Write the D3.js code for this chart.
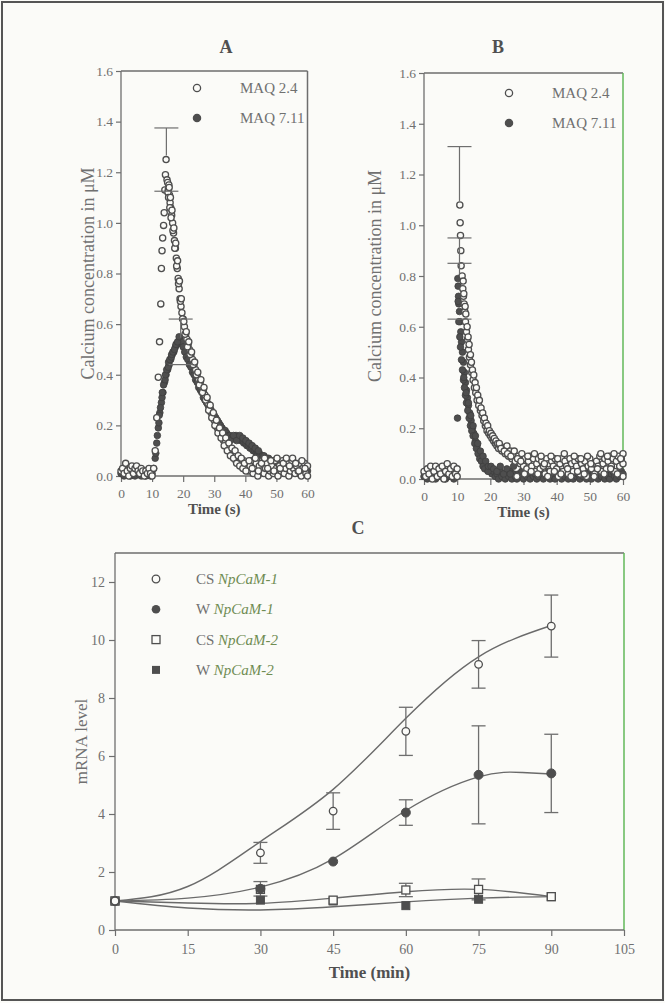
<!DOCTYPE html>
<html><head><meta charset="utf-8">
<script src="https://cdn.jsdelivr.net/npm/d3@7"></script>
<style>html,body{margin:0;padding:0;background:#fbfbf8;} svg{display:block;}</style>
</head><body>
<script>
// ---------------- DATA ----------------
// Panel A: [time (s), calcium µM]
const aMaq24 = [[0,0.02],[0.5,0.03],[1,0.01],[1.5,0.05],[2,0.02],[2.5,0.00],[3,0.03],[3.5,0.04],[4,0.01],[4.5,0.03],[5,0.04],[5.5,0.02],[6,0.01],[6.5,0.03],[7,0.02],[7.5,0.00],[8,0.02],[8.5,0.01],[9,0.03],[9.5,0.01],[10,0.00],[10.5,0.03],
[11,0.10],[11.5,0.23],[12,0.39],[12.4,0.53],[12.8,0.68],[13,0.82],[13.2,0.89],[13.4,0.94],[13.7,0.99],[13.9,1.04],[14.1,1.13],[14.3,1.19],[14.5,1.25],[14.8,1.17],[15,1.16],[15.2,1.13],[15.4,1.15],[15.6,1.11],[15.8,1.08],[16,1.06],[16.3,1.03],[16.6,1.00],[16.9,0.96],[17.2,0.93],[17.5,0.90],[17.8,0.86],[18.1,0.82],[18.4,0.78],[18.7,0.74],[19,0.70],[19.3,0.67],[19.6,0.645],[20,0.62],[20.4,0.59],[20.8,0.56],[21.2,0.54],[21.6,0.52],[22,0.50],[22.5,0.48],[23,0.46],[23.5,0.44],[24,0.42],[24.5,0.40],[25,0.38],[25.5,0.37],[26,0.35],[26.5,0.335],[27,0.32],[27.5,0.30],[28,0.285],[28.5,0.27],[29,0.25],[29.5,0.235],[30,0.22],[30.5,0.205],[31,0.19],[31.5,0.18],[32,0.17],[32.5,0.16],[33,0.14],[33.5,0.13],[34,0.12],[34.5,0.11],[35,0.10],[35.5,0.09],[36,0.08],[36.5,0.09],[37,0.06],[37.5,0.07],[38,0.05],[38.5,0.06],[39,0.04],[39.5,0.06],[40,0.03],[40.5,0.05],[41,0.02],[41.5,0.04],[42,0.06],[42.5,0.01],[43,0.03],[43.5,0.05],[44,0.00],[44.5,0.04],[45,0.02],[45.5,0.06],[46,0.01],[46.5,0.03],[47,0.05],[47.5,0.00],[48,0.02],[48.5,0.04],[49,0.01],[49.5,0.06],[50,0.03],[50.5,0.00],[51,0.04],[51.5,0.02],[52,0.06],[52.5,0.01],[53,0.03],[53.5,0.05],[54,0.00],[54.5,0.02],[55,0.06],[55.5,0.03],[56,0.01],[56.5,0.04],[57,0.02],[57.5,0.05],[58,0.00],[58.5,0.03],[59,0.05],[59.5,0.01],[60,0.04],[60,0.00],
[15.1,1.12],[15.3,1.10],[15.5,1.14],[15.7,1.06],[15.9,1.10],[16.1,1.02],[16.4,1.05],[16.7,0.97],[17,0.98],[17.3,0.90],[17.6,0.92],[17.9,0.83],[18.2,0.85],[18.5,0.76],[18.8,0.77],[19.1,0.69],[19.4,0.70],[19.8,0.62],[20.2,0.61],[20.6,0.56],[21,0.57],[21.4,0.51],[21.8,0.53],[22.2,0.48],[22.7,0.49],[23.2,0.44],[23.7,0.45],[24.2,0.40],[24.7,0.41],[25.2,0.36],[25.7,0.38],[26.2,0.33],[26.7,0.35],[27.2,0.30],[27.7,0.31],[28.2,0.26],[28.7,0.28],[29.2,0.23],[29.7,0.25],[30.2,0.20],[30.7,0.22],[31.2,0.17],[31.7,0.19],[32.2,0.15],[32.7,0.17],[33.2,0.12],[33.7,0.15],[34.2,0.10],[34.7,0.13],[35.2,0.08],[35.7,0.11],[36.2,0.07],[36.7,0.10],[37.2,0.05],[37.7,0.08],[38.2,0.04],[38.7,0.07],[39.2,0.03],[39.7,0.05],[40.2,0.02],[41.2,0.06],[42.2,0.03],[43.2,0.07],[44.2,0.02],[45.2,0.05],[46.2,0.07],[47.2,0.03],[48.2,0.06],[49.2,0.02],[50.2,0.07],[51.2,0.03],[52.2,0.05],[53.2,0.07],[54.2,0.04],[55.2,0.07],[56.2,0.05],[57.2,0.02],[58.2,0.06],[59.2,0.03]];
const aMaq711 = [[0,0.01],[0.5,0.02],[1,0.00],[1.5,0.02],[2,0.01],[2.5,0.03],[3,0.00],[3.5,0.02],[4,0.01],[4.5,0.00],[5,0.02],[5.5,0.01],[6,0.03],[6.5,0.00],[7,0.01],[7.5,0.02],[8,0.00],[8.5,0.02],[9,0.01],[9.5,0.00],[10,0.01],[10.5,0.03],[11,0.07],[11.5,0.13],[12,0.19],[12.5,0.25],[13,0.29],[13.5,0.33],[14,0.37],[14.5,0.40],[15,0.42],[15.5,0.44],[16,0.46],[16.5,0.48],[17,0.49],[17.5,0.51],[18,0.52],[18.5,0.53],[19,0.54],[19.5,0.53],[20,0.51],[20.5,0.49],[21,0.47],[21.5,0.46],[22,0.44],[22.5,0.43],[23,0.41],[23.5,0.40],[24,0.38],[24.5,0.37],[25,0.35],[25.5,0.34],[26,0.33],[26.5,0.31],[27,0.30],[27.5,0.29],[28,0.28],[28.5,0.27],[29,0.26],[29.5,0.25],[30,0.24],[30.5,0.23],[31,0.22],[31.5,0.21],[32,0.20],[32.5,0.19],[33,0.18],[33.5,0.18],[34,0.17],[34.5,0.16],[35,0.16],[35.5,0.15],[36,0.15],[36.5,0.15],[37,0.16],[37.5,0.15],[38,0.15],[38.5,0.14],[39,0.14],[39.5,0.13],[40,0.13],[40.5,0.12],[41,0.12],[41.5,0.11],[42,0.11],[42.5,0.10],[43,0.10],[43.5,0.09],[44,0.09],[44.5,0.09],[45,0.08],[45.5,0.08],[46,0.08],[46.5,0.07],[47,0.07],[47.5,0.07],[48,0.06],[48.5,0.06],[49,0.06],[49.5,0.05],[50,0.05],[50.5,0.05],[51,0.04],[51.5,0.05],[52,0.04],[52.5,0.04],[53,0.03],[53.5,0.04],[54,0.03],[54.5,0.03],[55,0.02],[55.5,0.03],[56,0.02],[56.5,0.02],[57,0.01],[57.5,0.02],[58,0.01],[58.5,0.02],[59,0.01],[59.5,0.01],[60,0.02],
[11.2,0.09],[11.7,0.16],[12.2,0.21],[12.3,0.24],[12.7,0.27],[13.2,0.31],[13.3,0.33],[13.7,0.36],[14.2,0.38],[14.3,0.40],[14.7,0.42],[15.2,0.43],[15.3,0.45],[15.7,0.46],[16.2,0.47],[16.3,0.48],[16.7,0.49],[17.2,0.50],[17.7,0.52],[18.2,0.53],[18.7,0.55],[35.2,0.14],[36.2,0.16],[37.2,0.14],[38.2,0.16],[39.2,0.15],[40.2,0.14],[41.2,0.13],[42.2,0.12],[43.2,0.11],[44.2,0.10]];
// Panel A error bars: [time, mean, sd]
const aErr24 = [[14.6,1.25,0.125]];
const aErr711 = [[19.2,0.53,0.09]];

// Panel B
const bMaq24 = [[0,0.03],[0.5,0.01],[1,0.04],[1.5,0.02],[2,0.05],[2.5,0.00],[3,0.03],[3.5,0.05],[4,0.01],[4.5,0.04],[5,0.02],[5.5,0.05],[6,0.00],[6.5,0.03],[7,0.06],[7.5,0.02],[8,0.04],[8.5,0.01],[9,0.05],[9.5,0.02],[10,0.04],[10,0.01],
[10.8,1.08],[10.9,1.01],[11,0.96],[11.1,0.90],[11.2,0.84],[11.5,0.80],[11.7,0.75],[11.9,0.72],[12.1,0.69],[12.3,0.66],[12.5,0.62],[12.8,0.58],[13.1,0.55],[13.4,0.51],[13.7,0.48],[14,0.45],[14.4,0.42],[14.8,0.39],[15.2,0.36],[15.6,0.34],[16,0.31],[16.5,0.29],[17,0.27],[17.5,0.25],[18,0.23],[18.5,0.21],[19,0.19],[19.5,0.18],[20,0.17],[20.5,0.16],[21,0.15],[21.5,0.14],[22,0.13],[22.5,0.12],[23,0.13],[23.5,0.11],[24,0.12],[24.5,0.10],[25,0.13],[25.5,0.09],[26,0.11],[26.5,0.08],[27,0.10],[27.5,0.07],[28,0.01],[28.5,0.09],[29,0.06],[29.5,0.10],[30,0.05],[30.5,0.08],[31,0.04],[31.5,0.07],[32,0.09],[32.5,0.05],[33,0.08],[33.5,0.03],[34,0.06],[34.5,0.08],[35,0.04],[35.5,0.07],[36,0.05],[36.5,0.02],[37,0.08],[37.5,0.06],[38,0.03],[38.5,0.07],[39,0.05],[39.5,0.08],[40,0.04],[40.5,0.01],[41,0.06],[41.5,0.08],[42,0.03],[42.5,0.07],[43,0.05],[43.5,0.02],[44,0.08],[44.5,0.06],[45,0.03],[45.5,0.07],[46,0.05],[46.5,0.08],[47,0.02],[47.5,0.06],[48,0.04],[48.5,0.07],[49,0.01],[49.5,0.05],[50,0.08],[50.5,0.04],[51,0.06],[51.5,0.02],[52,0.07],[52.5,0.05],[53,0.09],[53.5,0.03],[54,0.06],[54.5,0.08],[55,0.04],[55.5,0.07],[56,0.09],[56.5,0.05],[57,0.08],[57.5,0.03],[58,0.07],[58.5,0.09],[59,0.05],[59.5,0.08],[60,0.10],[60,0.06],[60,0.01],
[11.8,0.78],[12.0,0.73],[12.4,0.68],[12.6,0.65],[13,0.60],[13.3,0.56],[13.6,0.53],[14,0.49],[14.3,0.46],[14.6,0.43],[15,0.41],[15.4,0.38],[15.8,0.36],[16.2,0.33],[16.7,0.31],[17.2,0.28],[17.7,0.26],[18.2,0.24],[18.7,0.22],[19.2,0.21],[19.7,0.19],[20.2,0.18],[20.7,0.17],[21.2,0.16],[21.7,0.15],[22.2,0.14],[22.7,0.14],[23.2,0.12],[24.2,0.11],[25.2,0.10],[26.2,0.09],[27.2,0.11],[28.2,0.08],[29.2,0.07],
[30.3,0.02],[31.3,0.09],[32.3,0.03],[33.3,0.10],[34.3,0.02],[35.3,0.09],[36.3,0.06],[37.3,0.01],[38.3,0.09],[39.3,0.03],[40.3,0.08],[41.3,0.02],[42.3,0.10],[43.3,0.04],[44.3,0.01],[45.3,0.09],[46.3,0.03],[47.3,0.08],[48.3,0.02],[49.3,0.09],[50.3,0.06],[51.3,0.01],[52.3,0.04],[53.3,0.10],[54.3,0.02],[55.3,0.09],[56.3,0.04],[57.3,0.10],[58.3,0.02],[59.3,0.08]];
const bMaq711 = [[0,0.01],[0.5,0.03],[1,0.00],[1.5,0.02],[2,0.04],[2.5,0.01],[3,0.02],[3.5,0.00],[4,0.03],[4.5,0.01],[5,0.02],[5.5,0.04],[6,0.01],[6.5,0.00],[7,0.03],[7.5,0.01],[8,0.02],[8.5,0.04],[9,0.00],[9.5,0.02],[10.1,0.24],
[10.2,0.79],[10.3,0.76],[10.4,0.72],[10.5,0.69],[10.7,0.66],[10.9,0.62],[11.1,0.58],[11.3,0.54],[11.6,0.50],[11.9,0.46],[12.2,0.42],[12.5,0.38],[12.8,0.35],[13.1,0.32],[13.4,0.29],[13.8,0.26],[14.2,0.23],[14.6,0.20],[15,0.18],[15.5,0.15],[16,0.13],[16.5,0.11],[17,0.09],[17.5,0.08],[18,0.06],[18.5,0.05],[19,0.04],[19.5,0.04],[20,0.03],[20.5,0.02],[21,0.03],[21.5,0.01],[22,0.02],[22.5,0.00],[23,0.03],[23.5,0.01],[24,0.02],[24.5,0.00],[25,0.02],[25.5,0.01],[26,0.03],[26.5,0.00],[27,0.02],[27.5,0.01],[28,0.00],[28.5,0.02],[29,0.01],[29.5,0.03],[30,0.00],[30.5,0.02],[31,0.01],[31.5,0.02],[32,0.00],[32.5,0.03],[33,0.01],[33.5,0.02],[34,0.00],[34.5,0.01],[35,0.03],[35.5,0.02],[36,0.00],[36.5,0.02],[37,0.01],[37.5,0.03],[38,0.00],[38.5,0.02],[39,0.01],[39.5,0.00],[40,0.02],[40.5,0.03],[41,0.01],[41.5,0.00],[42,0.02],[42.5,0.01],[43,0.03],[43.5,0.00],[44,0.02],[44.5,0.01],[45,0.00],[45.5,0.03],[46,0.01],[46.5,0.02],[47,0.00],[47.5,0.02],[48,0.01],[48.5,0.03],[49,0.00],[49.5,0.02],[50,0.01],[50.5,0.00],[51,0.02],[51.5,0.03],[52,0.01],[52.5,0.00],[53,0.02],[53.5,0.01],[54,0.03],[54.5,0.00],[55,0.02],[55.5,0.01],[56,0.00],[56.5,0.02],[57,0.03],[57.5,0.01],[58,0.00],[58.5,0.02],[59,0.01],[59.5,0.03],[60,0.02],
[10.3,0.70],[10.5,0.62],[10.8,0.56],[11,0.52],[11.3,0.47],[11.6,0.43],[11.9,0.39],[12.2,0.36],[12.5,0.33],[12.8,0.30],[13.2,0.27],[13.6,0.24],[14,0.21],[14.4,0.19],[14.8,0.17],[15.3,0.14],[15.8,0.12],[16.3,0.10],[16.8,0.08],[17.3,0.07],[17.8,0.05],[18.3,0.04],[19.3,0.03],[12,0.40],[12.7,0.34],[13.4,0.30],[14.1,0.25],[14.8,0.21],[15.5,0.17],[16.2,0.14],[17,0.11],[17.8,0.09],[18.6,0.07],[19.4,0.05],[20.2,0.05],[21,0.04],[22,0.03],[23,0.05],[24,0.02],[25,0.04],[26,0.02],[27,0.05]];
const bErr24 = [[10.7,1.08,0.23]];
const bErr711 = [[10.7,0.79,0.16]];

const seriesNamesAB = ["MAQ 2.4", "MAQ 7.11"];
const ticksAB_x = [0,10,20,30,40,50,60];
const ticksAB_y = [0,0.2,0.4,0.6,0.8,1.0,1.2,1.4,1.6];

// Panel C
const timesC = [0,30,45,60,75,90];
const csNp1 = [1, 2.66, 4.10, 6.85, 9.16, 10.48];
const csNp1Err = [0, 0.36, 0.63, 0.83, 0.82, 1.07];
const wNp1 = [1, 1.42, 2.36, 4.05, 5.35, 5.40];
const wNp1Err = [0, 0.25, 0, 0.44, 1.69, 1.35];
const csNp2 = [1, 1.40, 1.03, 1.38, 1.40, 1.15];
const csNp2Err = [0, 0, 0, 0.23, 0.36, 0];
const wNp2 = [1, 1.03, 1.00, 0.84, 1.06, 1.15];
const fitCsNp1 = [[0,1],[15,1.5],[30,3.05],[45,4.85],[60,7.3],[75,9.42],[90,10.5]];
const fitWNp1 = [[0,1],[15,1.1],[30,1.48],[45,2.45],[60,4.12],[75,5.28],[84,5.43],[90,5.38]];
const fitCsNp2 = [[0,1],[15,0.93],[30,0.92],[45,1.1],[60,1.32],[75,1.4],[90,1.15]];
const fitWNp2 = [[0,1],[15,0.76],[30,0.69],[45,0.8],[60,0.97],[75,1.1],[90,1.15]];
const ticksC_x = [0,15,30,45,60,75,90,105];
const ticksC_y = [0,2,4,6,8,10,12];
const legendC = [["CS ","NpCaM-1"],["W ","NpCaM-1"],["CS ","NpCaM-2"],["W ","NpCaM-2"]];

// ---------------- DRAW ----------------
const W = 665, H = 1003;
const FONT = "'Liberation Serif', 'Times New Roman', serif";
const AX = "#6e6e6e", TXT = "#707070", DARK = "#505050", MARK = "#4e4e4e", GREEN = "#62b85a", ITAL = "#6f8c52";
const svg = d3.select("body").append("svg").attr("width", W).attr("height", H)
  .style("font-family", FONT);
svg.append("rect").attr("width", W).attr("height", H).attr("fill", "#fbfbf8");
svg.append("rect").attr("x", 2).attr("y", 2).attr("width", W - 4).attr("height", H - 5)
  .attr("fill", "none").attr("stroke", "#555").attr("stroke-width", 2);

function styleAxis(g, fs) {
  g.selectAll("path").remove();
  g.selectAll("line").attr("stroke", AX).attr("stroke-width", 1.2);
  g.selectAll("text").attr("fill", TXT).style("font-size", fs + "px").style("font-family", FONT);
}

function calciumPanel(cfg) {
  const x = d3.scaleLinear().domain([0, 60]).range([cfg.x0, cfg.x1]);
  const y = d3.scaleLinear().domain([0, 1.6]).range([cfg.y0, cfg.y1]);
  const g = svg.append("g");
  g.append("line").attr("x1", cfg.x0).attr("x2", cfg.x1).attr("y1", cfg.y1).attr("y2", cfg.y1).attr("stroke", AX).attr("stroke-width", 1.3);
  g.append("line").attr("x1", cfg.x1).attr("x2", cfg.x1).attr("y1", cfg.y1).attr("y2", cfg.y0).attr("stroke", cfg.rightCol).attr("stroke-width", 1.5);
  g.append("line").attr("x1", cfg.x0).attr("x2", cfg.x0).attr("y1", cfg.y1).attr("y2", cfg.y0).attr("stroke", AX).attr("stroke-width", 1.3);
  g.append("line").attr("x1", cfg.x0).attr("x2", cfg.x1).attr("y1", cfg.y0).attr("y2", cfg.y0).attr("stroke", AX).attr("stroke-width", 1.3);
  g.append("g").attr("transform", `translate(0,${cfg.y0})`)
    .call(d3.axisBottom(x).tickValues(ticksAB_x).tickSize(6).tickPadding(6).tickSizeOuter(0))
    .call(a => styleAxis(a, 13.5));
  g.append("g").attr("transform", `translate(${cfg.x0},0)`)
    .call(d3.axisLeft(y).tickValues(ticksAB_y).tickFormat(d3.format(".1f")).tickSize(5).tickPadding(3).tickSizeOuter(0))
    .call(a => styleAxis(a, 13.5));
  g.append("g").selectAll("circle").data(cfg.filled).join("circle")
    .attr("cx", d => x(d[0])).attr("cy", d => y(d[1])).attr("r", 3.3)
    .attr("fill", MARK).attr("stroke", "#3f3f3f").attr("stroke-width", 0.8);
  g.append("g").selectAll("circle").data(cfg.open).join("circle")
    .attr("cx", d => x(d[0])).attr("cy", d => y(d[1])).attr("r", 3.1)
    .attr("fill", "#fbfbf8").attr("stroke", MARK).attr("stroke-width", 1.3);
  cfg.errs.forEach(e => {
    const [t, m, s] = e;
    const cx = x(t), hw = 12;
    g.append("line").attr("x1", cx).attr("x2", cx).attr("y1", y(m + s)).attr("y2", y(m) - 4).attr("stroke", AX).attr("stroke-width", 1.2);
    g.append("line").attr("x1", cx - hw).attr("x2", cx + hw).attr("y1", y(m + s)).attr("y2", y(m + s)).attr("stroke", AX).attr("stroke-width", 1.2);
    g.append("line").attr("x1", cx - hw).attr("x2", cx + hw).attr("y1", y(m - s)).attr("y2", y(m - s)).attr("stroke", AX).attr("stroke-width", 1.2);
  });
  const lg = g.append("g");
  seriesNamesAB.forEach((nm, i) => {
    const ly = cfg.legY + i * 30;
    lg.append("circle").attr("cx", cfg.legX).attr("cy", ly).attr("r", 3.6)
      .attr("fill", i === 0 ? "#fbfbf8" : MARK).attr("stroke", MARK).attr("stroke-width", 1.3);
    lg.append("text").attr("x", cfg.legX + 43).attr("y", ly + 5).text(nm)
      .attr("fill", TXT).style("font-size", "15px");
  });
  g.append("text").attr("x", cfg.titleX).attr("y", 53).attr("text-anchor", "middle")
    .style("font-size", "18px").style("font-weight", "bold").attr("fill", DARK).text(cfg.title);
  g.append("text").attr("x", (cfg.x0 + cfg.x1) / 2).attr("y", cfg.y0 + 38).attr("text-anchor", "middle")
    .style("font-size", "15px").style("font-weight", "bold").attr("fill", DARK).text("Time (s)");
  g.append("text").attr("transform", `translate(${cfg.ylabX},${(cfg.y0 + cfg.y1) / 2}) rotate(-90)`)
    .attr("text-anchor", "middle").style("font-size", "18px").attr("fill", TXT)
    .text("Calcium concentration in μM");
}

calciumPanel({x0: 121, x1: 307.5, y0: 476, y1: 71, rightCol: AX, open: aMaq24, filled: aMaq711,
  errs: aErr24.concat(aErr711), legX: 197, legY: 88, title: "A", titleX: 226, ylabX: 94});
calciumPanel({x0: 424, x1: 623, y0: 479, y1: 73, rightCol: GREEN, open: bMaq24, filled: bMaq711,
  errs: bErr24.concat(bErr711), legX: 509, legY: 93, title: "B", titleX: 498, ylabX: 381});

// ---- Panel C ----
(function () {
  const x0 = 115, x1 = 624, y0 = 930, y1 = 553;
  const x = d3.scaleLinear().domain([0, 105]).range([x0, x1]);
  const y = d3.scaleLinear().domain([0, 13]).range([y0, y1]);
  const g = svg.append("g");
  g.append("line").attr("x1", x0).attr("x2", x1).attr("y1", y1).attr("y2", y1).attr("stroke", AX).attr("stroke-width", 1.3);
  g.append("line").attr("x1", x1).attr("x2", x1).attr("y1", y1).attr("y2", y0).attr("stroke", GREEN).attr("stroke-width", 1.5);
  g.append("line").attr("x1", x0).attr("x2", x0).attr("y1", y1).attr("y2", y0).attr("stroke", AX).attr("stroke-width", 1.3);
  g.append("line").attr("x1", x0).attr("x2", x1).attr("y1", y0).attr("y2", y0).attr("stroke", AX).attr("stroke-width", 1.3);
  g.append("g").attr("transform", `translate(0,${y0})`)
    .call(d3.axisBottom(x).tickValues(ticksC_x).tickSize(6).tickPadding(8).tickSizeOuter(0))
    .call(a => styleAxis(a, 14));
  g.append("g").attr("transform", `translate(${x0},0)`)
    .call(d3.axisLeft(y).tickValues(ticksC_y).tickSize(6).tickPadding(4).tickSizeOuter(0))
    .call(a => styleAxis(a, 14));

  const line = d3.line().x(d => x(d[0])).y(d => y(d[1])).curve(d3.curveNatural);
  [fitCsNp1, fitWNp1, fitCsNp2, fitWNp2].forEach(f => {
    g.append("path").attr("d", line(f)).attr("fill", "none").attr("stroke", "#6a6a6a").attr("stroke-width", 1.4);
  });

  function errBars(vals, errs) {
    vals.forEach((v, i) => {
      const s = errs[i];
      if (!s) return;
      const cx = x(timesC[i]), hw = 7;
      g.append("line").attr("x1", cx).attr("x2", cx).attr("y1", y(v + s)).attr("y2", y(v - s)).attr("stroke", AX).attr("stroke-width", 1.3);
      [v + s, v - s].forEach(c => g.append("line").attr("x1", cx - hw).attr("x2", cx + hw).attr("y1", y(c)).attr("y2", y(c)).attr("stroke", AX).attr("stroke-width", 1.3));
    });
  }
  errBars(csNp1, csNp1Err);
  errBars(wNp1, wNp1Err);
  errBars(csNp2, csNp2Err);

  const pts = v => v.map((d, i) => [timesC[i], d]);
  g.append("g").selectAll("rect").data(pts(wNp2)).join("rect")
    .attr("x", d => x(d[0]) - 4).attr("y", d => y(d[1]) - 4).attr("width", 8).attr("height", 8)
    .attr("fill", MARK).attr("stroke", MARK).attr("stroke-width", 1);
  g.append("g").selectAll("rect").data(pts(csNp2)).join("rect")
    .attr("x", d => x(d[0]) - 4).attr("y", d => y(d[1]) - 4).attr("width", 8).attr("height", 8)
    .attr("fill", "#fbfbf8").attr("stroke", MARK).attr("stroke-width", 1.3);
  g.append("g").selectAll("circle").data(pts(wNp1)).join("circle")
    .attr("cx", d => x(d[0])).attr("cy", d => y(d[1])).attr("r", 4.5)
    .attr("fill", MARK).attr("stroke", MARK);
  g.append("g").selectAll("circle").data(pts(csNp1)).join("circle")
    .attr("cx", d => x(d[0])).attr("cy", d => y(d[1])).attr("r", 3.8)
    .attr("fill", "#fbfbf8").attr("stroke", MARK).attr("stroke-width", 1.3);

  const lx = 156;
  legendC.forEach((l, i) => {
    const ly = 579 + i * 30.3;
    if (i === 0) g.append("circle").attr("cx", lx).attr("cy", ly).attr("r", 3.8).attr("fill", "#fbfbf8").attr("stroke", MARK).attr("stroke-width", 1.3);
    if (i === 1) g.append("circle").attr("cx", lx).attr("cy", ly).attr("r", 4.3).attr("fill", MARK);
    if (i === 2) g.append("rect").attr("x", lx - 4).attr("y", ly - 4).attr("width", 8).attr("height", 8).attr("fill", "#fbfbf8").attr("stroke", MARK).attr("stroke-width", 1.3);
    if (i === 3) g.append("rect").attr("x", lx - 4).attr("y", ly - 4).attr("width", 8).attr("height", 8).attr("fill", MARK);
    const t = g.append("text").attr("x", 196).attr("y", ly + 5).style("font-size", "15px");
    t.append("tspan").attr("fill", TXT).text(l[0]);
    t.append("tspan").attr("fill", ITAL).style("font-style", "italic").text(l[1]);
  });

  g.append("text").attr("x", 358).attr("y", 534).attr("text-anchor", "middle")
    .style("font-size", "18px").style("font-weight", "bold").attr("fill", DARK).text("C");
  g.append("text").attr("x", (x0 + x1) / 2).attr("y", 978).attr("text-anchor", "middle")
    .style("font-size", "17px").style("font-weight", "bold").attr("fill", DARK).text("Time (min)");
  g.append("text").attr("transform", `translate(${87},${(y0 + y1) / 2}) rotate(-90)`)
    .attr("text-anchor", "middle").style("font-size", "17px").attr("fill", TXT).text("mRNA level");
})();
</script>
</body></html>
